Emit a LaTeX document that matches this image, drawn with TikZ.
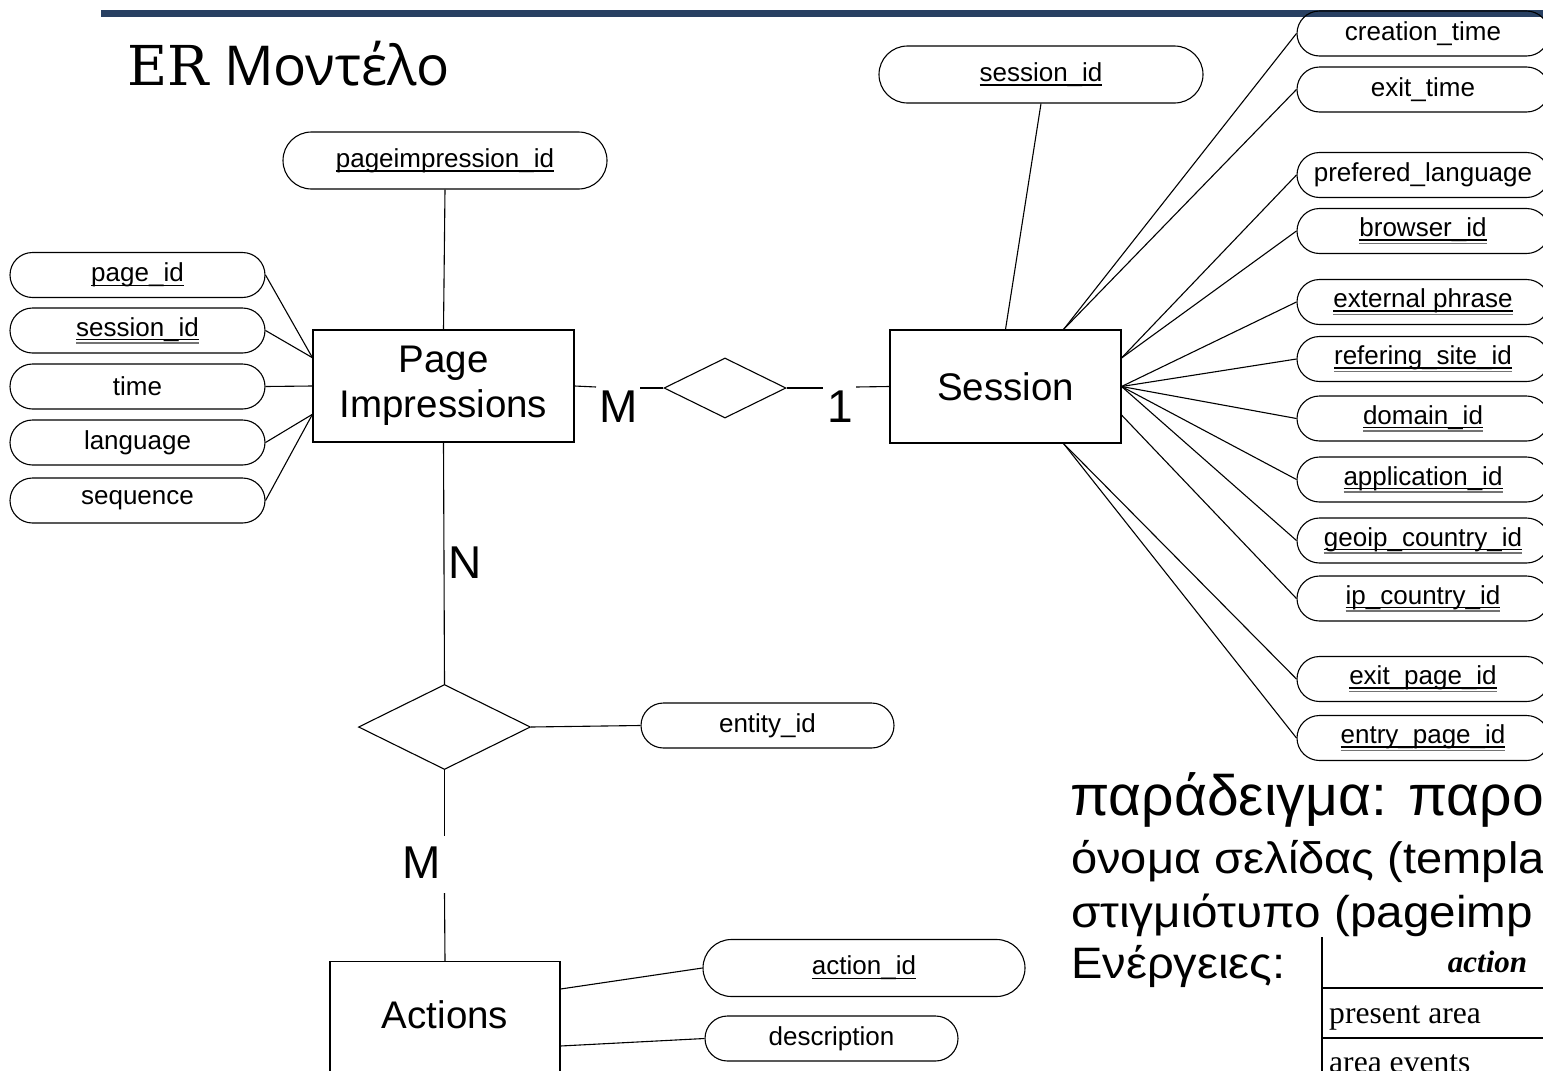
\documentclass[tikz,border=0pt]{standalone}
\usepackage{fontspec}
\setmainfont{Liberation Sans}
\newfontfamily\titleserif{DejaVu Serif}
\newfontfamily\titlesans{Open Sans}
\newfontfamily\timesf{Liberation Serif}
\newfontfamily\exfont[FakeStretch=1.07]{Liberation Sans}
\usetikzlibrary{shapes.misc,shapes.geometric,calc}
\definecolor{hdr}{RGB}{40,64,98}
\newcommand\ulone[1]{\setbox0\hbox{#1}\rlap{\rule[-4.5pt]{\wd0}{1.5pt}}\box0}
\newcommand\ultwo[1]{\setbox0\hbox{#1}\rlap{\rule[-4pt]{\wd0}{1.5pt}}\rlap{\textcolor{black!55}{\rule[-7.5pt]{\wd0}{1.4pt}}}\box0}
\tikzset{
  attr/.style={rounded rectangle, draw, line width=1.1pt, minimum height=45, minimum width=255, inner sep=0pt, font=\fontsize{26}{30}\selectfont},
  bigattr/.style={attr, minimum height=57, minimum width=324},
  entbox/.style={rectangle, draw, line width=1.1pt, inner sep=0pt, font=\fontsize{38.5}{45}\selectfont, align=center},
  enttext/.style={inner sep=0pt, font=\fontsize{38.5}{45}\selectfont},
  rel/.style={diamond, draw, line width=1.1pt, inner sep=0pt},
  conn/.style={line width=1.1pt},
  card/.style={inner sep=0pt, anchor=base, font=\fontsize{46}{50}\selectfont},
  free/.style={inner sep=0pt, anchor=base west},
  tabline/.style={line width=1.2pt}
}
\begin{document}
\begin{tikzpicture}[x=1pt,y=-1pt]
\useasboundingbox (0,0) rectangle (1543,1071);
\clip (0,0) rectangle (1543,1071);
\fill[white] (0,0) rectangle (1543,1071);
\fill[hdr] (101,10) rectangle (1560,17);

% title
\node[free, font=\fontsize{55}{60}\selectfont] (title) at (127,85) {{\titleserif ER} {\titlesans Μοντέλο}};

% entities
\node[entbox, minimum width=261, minimum height=112] (pi) at (443.5,386) {Page\\Impressions};
\node[entbox, minimum width=231, minimum height=113] (ses) at (1005.5,386.5) {Session};
\node[entbox, minimum width=230, minimum height=240, anchor=north] (act) at (445,961) {};
\node[enttext, anchor=base] (acttxt) at (445,1028) {Actions};

% relationships
\node[rel, minimum width=122, minimum height=60] (r1) at (725,388) {};
\node[rel, minimum width=172, minimum height=85] (r2) at (444.5,727) {};

% attributes of Page Impressions
\node[bigattr] (piid) at (445,160.5) {\ulone{pageimpression\_id}};
\node[attr] (pageid) at (137.5,275) {\ulone{page\_id}};
\node[attr] (pisid) at (137.5,330.5) {\ultwo{session\_id}};
\node[attr] (time) at (137.5,386.5) {time};
\node[attr] (lang) at (137.5,442.5) {language};
\node[attr] (seq) at (137.5,500.5) {sequence};

% attributes of Session
\node[bigattr] (sesid) at (1041,74.5) {\ulone{session\_id}};
\node[attr, minimum width=252] (ctime) at (1423,33.5) {creation\_time};
\node[attr, minimum width=252] (etime) at (1423,89.5) {exit\_time};
\node[attr, minimum width=252] (plang) at (1423,175) {prefered\_language};
\node[attr, minimum width=252] (brow) at (1423,231) {\ultwo{browser\_id}};
\node[attr, minimum width=252] (ext) at (1423,302) {\ultwo{external phrase}};
\node[attr, minimum width=252] (ref) at (1423,359) {\ultwo{refering\_site\_id}};
\node[attr, minimum width=252] (dom) at (1423,418.5) {\ultwo{domain\_id}};
\node[attr, minimum width=252] (app) at (1423,479.5) {\ultwo{application\_id}};
\node[attr, minimum width=252] (geo) at (1423,540.5) {\ultwo{geoip\_country\_id}};
\node[attr, minimum width=252] (ipc) at (1423,598.5) {\ultwo{ip\_country\_id}};
\node[attr, minimum width=252] (exitp) at (1423,679) {\ultwo{exit\_page\_id}};
\node[attr, minimum width=252] (entp) at (1423,738) {\ultwo{entry\_page\_id}};

% other attributes
\node[attr, minimum width=253] (entid) at (767.5,725.5) {entity\_id};
\node[bigattr, minimum width=322] (actid) at (864,968) {\ulone{action\_id}};
\node[attr, minimum width=253] (desc) at (831.5,1038.5) {description};

% attachment points
\coordinate (pil1) at ($(pi.north west)!0.25!(pi.south west)$);
\coordinate (pil3) at ($(pi.north west)!0.75!(pi.south west)$);
\coordinate (st) at ($(ses.north west)!0.75!(ses.north east)$);
\coordinate (sr1) at ($(ses.north east)!0.25!(ses.south east)$);
\coordinate (sr3) at ($(ses.north east)!0.75!(ses.south east)$);
\coordinate (sb) at ($(ses.south west)!0.75!(ses.south east)$);
\coordinate (ar1) at ($(act.north east)+(0,28)$);
\coordinate (ar2) at ($(act.north east)+(0,85)$);
\coordinate (m1a) at (596,387);
\coordinate (m1b) at (640,388);
\coordinate (o1a) at (823,388);
\coordinate (o1b) at (856,387);
\coordinate (m2a) at (444.5,836);
\coordinate (m2b) at (444.5,893);

% connectors: Page Impressions
\draw[conn] (piid.south) -- (pi.north);
\draw[conn] (pageid.east) -- (pil1);
\draw[conn] (pisid.east) -- (pil1);
\draw[conn] (time.east) -- (pi.west);
\draw[conn] (lang.east) -- (pil3);
\draw[conn] (seq.east) -- (pil3);

% connectors: Session
\draw[conn] (sesid.south) -- (ses.north);
\draw[conn] (st) -- (ctime.west);
\draw[conn] (st) -- (etime.west);
\draw[conn] (sr1) -- (plang.west);
\draw[conn] (sr1) -- (brow.west);
\draw[conn] (ses.east) -- (ext.west);
\draw[conn] (ses.east) -- (ref.west);
\draw[conn] (ses.east) -- (dom.west);
\draw[conn] (ses.east) -- (app.west);
\draw[conn] (ses.east) -- (geo.west);
\draw[conn] (sr3) -- (ipc.west);
\draw[conn] (sb) -- (exitp.west);
\draw[conn] (sb) -- (entp.west);

% relationship 1
\draw[conn] (pi.east) -- (m1a);
\draw[conn] (m1b) -- (r1.west);
\draw[conn] (r1.east) -- (o1a);
\draw[conn] (o1b) -- (ses.west);
\node[card] (cm1) at (618.5,422) {M};
\node[card] (c1) at (840,422) {1};

% relationship 2
\draw[conn] (pi.south) -- (r2.north);
\draw[conn] (r2.east) -- (entid.west);
\draw[conn] (r2.south) -- (m2a);
\draw[conn] (m2b) -- (act.north);
\node[card] (cn) at (465.5,578) {N};
\node[card] (cm2) at (422,878) {M};

% actions attributes
\draw[conn] (ar1) -- (actid.west);
\draw[conn] (ar2) -- (desc.west);

% example text
\node[free, font=\fontsize{57}{60}\selectfont] (ex1) at (1070,815) {παράδειγμα: παρο};
\node[free, font=\exfont\fontsize{44}{48}\selectfont] (ex2) at (1071,873) {όνομα σελίδας (templa};
\node[free, font=\exfont\fontsize{44.5}{48}\selectfont] (ex3) at (1071,927) {στιγμιότυπο (pageimp};
\node[free, font=\exfont\fontsize{44}{48}\selectfont] (ex4) at (1071,978) {Ενέργειες:};

% table
\draw[tabline] (1322,937) -- (1322,1080);
\draw[tabline] (1322,988) -- (1560,988);
\draw[tabline] (1322,1038) -- (1560,1038);
\node[inner sep=0pt, anchor=base, font=\timesf\bfseries\itshape\fontsize{31}{34}\selectfont] (th) at (1487.5,972) {action};
\node[free, font=\timesf\fontsize{31.6}{34}\selectfont] (td1) at (1329,1023) {present area};
\node[free, font=\timesf\fontsize{31.6}{34}\selectfont] (td2) at (1329,1072.5) {area events};
\end{tikzpicture}
\end{document}
